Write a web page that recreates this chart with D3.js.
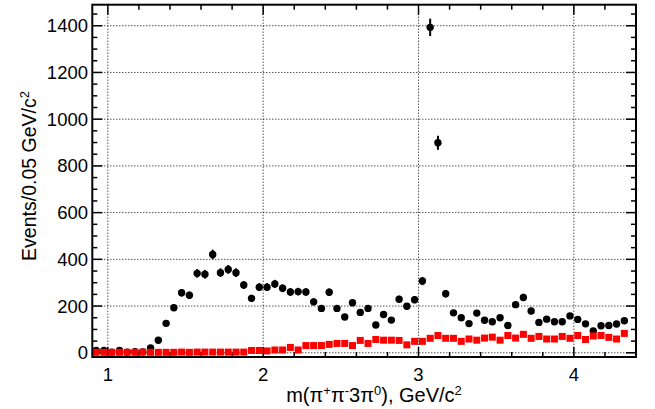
<!DOCTYPE html>
<html><head><meta charset="utf-8">
<script src="https://cdn.jsdelivr.net/npm/d3@7"></script>
<style>body{margin:0;background:#fff}svg{display:block}text{font-family:"Liberation Sans",Arial,Helvetica,sans-serif}</style>
</head><body><svg id="c" width="655" height="409"></svg>
<script>
const mass = [0.925,0.975,1.025,1.075,1.125,1.175,1.225,1.275,1.325,1.375,1.425,1.475,1.525,1.575,1.625,1.675,1.725,1.775,1.825,1.875,
1.925,1.975,2.025,2.075,2.125,2.175,2.225,2.275,2.325,2.375,2.425,2.475,2.525,2.575,2.625,2.675,2.725,2.775,2.825,2.875,
2.925,2.975,3.025,3.075,3.125,3.175,3.225,3.275,3.325,3.375,3.425,3.475,3.525,3.575,3.625,3.675,3.725,3.775,3.825,3.875,
3.925,3.975,4.025,4.075,4.125,4.175,4.225,4.275,4.325];
const dataEvents = [10,10,3,10,3,5,4,21,54,126,193,257,246,340,336,421,343,357,343,290,
233,281,281,295,276,260,262,260,218,190,259,190,153,214,173,190,119,164,140,229,
199,227,307,1393,899,253,171,150,125,170,139,133,150,117,206,237,179,130,144,133,
133,158,143,124,94,116,117,123,137];
const bkgEvents = [2,2,2,2,2,2,3,2,2,2,2,3,2,3,3,3,3,3,3,3,
10,10,8,12,12,23,12,31,31,31,36,40,40,31,53,40,57,54,54,53,
34,49,49,62,74,62,62,49,59,54,63,67,54,74,63,79,62,70,59,59,
70,62,74,57,72,74,66,59,83];
const xTicks = [1,2,3,4];
const yTicks = [0,200,400,600,800,1000,1200,1400];

const svg = d3.select("#c");
const L=92.3, R=636, T=4.7, B=357;
const x = d3.scaleLinear().domain([0.9,4.4]).range([L,R]);
const y = d3.scaleLinear().domain([-18,1490]).range([B,T]);

// grid
const g = svg.append("g");
g.selectAll("line.gx").data(xTicks).join("line")
  .attr("x1",d=>x(d)).attr("x2",d=>x(d)).attr("y1",T).attr("y2",B)
  .attr("stroke","#000").attr("stroke-width",1).attr("stroke-dasharray","1,2");
g.selectAll("line.gy").data(yTicks).join("line")
  .attr("y1",d=>y(d)).attr("y2",d=>y(d)).attr("x1",L).attr("x2",R)
  .attr("stroke","#000").attr("stroke-width",1).attr("stroke-dasharray","1,2");

// ticks (inward, all four sides)
const xMinor = d3.range(1.0,4.4001,0.2).filter(v=>v>0.9);
const yMinor = d3.range(0,1490,50);
const tk = svg.append("g").attr("stroke","#000").attr("stroke-width",1.5);
xMinor.forEach(v=>{
  const maj = Math.abs(v-Math.round(v))<1e-6; const len = maj?10:5;
  tk.append("line").attr("x1",x(v)).attr("x2",x(v)).attr("y1",B).attr("y2",B-len);
  tk.append("line").attr("x1",x(v)).attr("x2",x(v)).attr("y1",T).attr("y2",T+len);
});
yMinor.forEach(v=>{
  const maj = v%200===0; const len = maj?10:5;
  tk.append("line").attr("y1",y(v)).attr("y2",y(v)).attr("x1",L).attr("x2",L+len);
  tk.append("line").attr("y1",y(v)).attr("y2",y(v)).attr("x1",R).attr("x2",R-len);
});

// data points
const pts = svg.append("g");
dataEvents.forEach((v,i)=>{
  const e = Math.sqrt(v);
  pts.append("line").attr("x1",x(mass[i])).attr("x2",x(mass[i]))
    .attr("y1",y(v-e)).attr("y2",y(v+e)).attr("stroke","#000").attr("stroke-width",2);
});
pts.selectAll("circle").data(dataEvents).join("circle")
  .attr("cx",(d,i)=>x(mass[i])).attr("cy",d=>y(d)).attr("r",3.7).attr("fill","#000");

const sq = 7;
svg.append("g").selectAll("rect").data(bkgEvents).join("rect")
  .attr("x",(d,i)=>x(mass[i])-sq/2).attr("y",d=>y(d)-sq/2)
  .attr("width",sq).attr("height",sq).attr("fill","#ff0000");

// frame
svg.append("rect").attr("x",L).attr("y",T).attr("width",R-L).attr("height",B-T)
  .attr("fill","none").attr("stroke","#000").attr("stroke-width",2);

// tick labels
svg.append("g").selectAll("text").data(xTicks).join("text")
  .attr("x",d=>x(d)).attr("y",381).attr("text-anchor","middle").attr("font-size",18.5).text(d=>d);
svg.append("g").selectAll("text").data(yTicks).join("text")
  .attr("x",88).attr("y",d=>y(d)+6.5).attr("text-anchor","end").attr("font-size",18.5).text(d=>d);

// axis titles
const xt = svg.append("text").attr("x",374).attr("y",402).attr("text-anchor","middle").attr("font-size",20);
xt.append("tspan").text("m(π");
xt.append("tspan").attr("baseline-shift","super").attr("font-size",13).text("+");
xt.append("tspan").text("π");
xt.append("tspan").attr("baseline-shift","super").attr("font-size",13).text("-");
xt.append("tspan").text("3π");
xt.append("tspan").attr("baseline-shift","super").attr("font-size",13).text("0");
xt.append("tspan").text("), GeV/c");
xt.append("tspan").attr("baseline-shift","super").attr("font-size",13).text("2");

const yt = svg.append("text").attr("transform","translate(36,176) rotate(-90)")
  .attr("text-anchor","middle").attr("font-size",19.5);
yt.append("tspan").text("Events/0.05 GeV/c");
yt.append("tspan").attr("baseline-shift","super").attr("font-size",13).text("2");
</script></body></html>
